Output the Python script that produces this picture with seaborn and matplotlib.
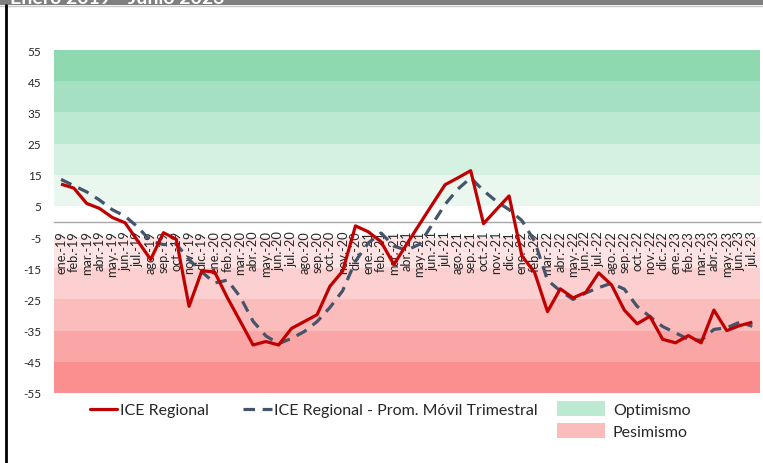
import matplotlib
matplotlib.use("Agg")
import matplotlib.pyplot as plt
import seaborn as sns
import pandas as pd
import numpy as np
from matplotlib.lines import Line2D
from matplotlib.patches import Patch, Rectangle

# ---------------- data ----------------
month_labels = [
    "ene.-19", "feb.-19", "mar.-19", "abr.-19", "may.-19", "jun.-19", "jul.-19", "ago.-19", "sep.-19", "oct.-19", "nov.-19", "dic.-19",
    "ene.-20", "feb.-20", "mar.-20", "abr.-20", "may.-20", "jun.-20", "jul.-20", "ago.-20", "sep.-20", "oct.-20", "nov.-20", "dic.-20",
    "ene.-21", "feb.-21", "mar.-21", "abr.-21", "may.-21", "jun.-21", "jul.-21", "ago.-21", "sep.-21", "oct.-21", "nov.-21", "dic.-21",
    "ene.-22", "feb.-22", "mar.-22", "abr.-22", "may.-22", "jun.-22", "jul.-22", "ago.-22", "sep.-22", "oct.-22", "nov.-22", "dic.-22",
    "ene.-23", "feb.-23", "mar.-23", "abr.-23", "may.-23", "jun.-23", "jul.-23",
]

ice_regional = [
    12.0, 10.7, 5.8, 4.2, 1.3, -0.4, -6.3, -12.2, -3.6, -5.7, -27.2, -15.8,
    -16.2, -24.5, -32.0, -39.6, -38.5, -39.6, -34.3, -32.1, -29.9, -20.8, -15.9, -1.4,
    -3.3, -6.5, -13.8, -7.3, -0.9, 5.5, 11.8, 14.0, 16.3, -0.7, 3.8, 8.2,
    -11.0, -16.4, -28.9, -21.6, -24.5, -22.7, -16.5, -20.3, -28.4, -32.8, -30.4, -37.8,
    -38.9, -36.6, -38.9, -28.4, -35.0, -33.4, -32.3,
]

ice_prom_movil = [
    13.5, 11.5, 9.5, 6.9, 3.8, 1.7, -1.8, -6.3, -7.4, -7.2, -12.2, -16.2,
    -19.7, -18.8, -24.2, -32.0, -36.7, -39.2, -37.5, -35.3, -32.1, -27.6, -22.2, -12.7,
    -6.9, -3.7, -7.9, -9.2, -7.3, -0.9, 5.5, 10.4, 14.0, 9.9, 6.5, 3.8,
    0.3, -6.4, -18.8, -22.3, -25.0, -22.9, -21.2, -19.8, -21.7, -27.2, -30.5, -33.7,
    -35.7, -37.8, -38.1, -34.6, -34.1, -32.3, -33.6,
]

y_ticks = [-55, -45, -35, -25, -15, -5, 5, 15, 25, 35, 45, 55]

band_edges_opt = [(5, 15), (15, 25), (25, 35), (35, 45), (45, 55)]
band_edges_pes = [(-15, -5), (-25, -15), (-35, -25), (-45, -35), (-55, -45)]
band_colors_opt = ["#e9f7ef", "#d4f1e2", "#bce9d2", "#a4e0c1", "#8fd9b0"]
band_colors_pes = ["#fde3e3", "#fcd0d0", "#fbbcbc", "#fba6a6", "#fb8f8f"]

series_names = ["ICE Regional", "ICE Regional - Prom. Móvil Trimestral"]
zone_names = ["Optimismo", "Pesimismo"]

df = pd.DataFrame({
    "idx": np.arange(len(month_labels)),
    "ice": ice_regional,
    "ma": ice_prom_movil,
})

# ---------------- style ----------------
sns.set_theme(style="white")
plt.rcParams["font.family"] = ["Lato", "DejaVu Sans"]

W, H = 763, 464
fig = plt.figure(figsize=(W / 100, H / 100), dpi=100)
fig.patch.set_facecolor("white")
ax = fig.add_axes([54 / W, 1 - 394 / H, (760 - 54) / W, 343 / H])
ax.set_facecolor("white")

for (lo, hi), c in zip(band_edges_opt, band_colors_opt):
    ax.axhspan(lo, hi, color=c, lw=0, zorder=0.1)
for (lo, hi), c in zip(band_edges_pes, band_colors_pes):
    ax.axhspan(lo, hi, color=c, lw=0, zorder=0.1)

red = "#c00000"
slate = "#44546a"

sns.lineplot(data=df, x="idx", y="ice", color=red, lw=2.3, ax=ax, zorder=3)
sns.lineplot(data=df, x="idx", y="ma", color=slate, lw=2.3, ax=ax, zorder=2.8)
ax.lines[1].set_dashes((3.6, 2.4))
for ln in ax.lines:
    ln.set_solid_capstyle("butt")

# spines first (set_position resets tick properties)
for s in ["top", "right", "left"]:
    ax.spines[s].set_visible(False)
ax.spines["bottom"].set_position(("data", 0))
ax.spines["bottom"].set_color("#a6a6a6")
ax.spines["bottom"].set_linewidth(1.0)

ax.set_axisbelow(True)
ax.set_xlim(-0.55, 54.6)
ax.set_ylim(-55, 55)
ax.set_yticks(y_ticks)
ax.set_yticklabels([str(v) for v in y_ticks], fontsize=8.5, color="#262626")
ax.set_xticks(df["idx"])
ax.set_xticklabels(month_labels, fontsize=9.2, color="#262626")
ax.tick_params(axis="x", length=0, pad=6, labelrotation=90)
ax.tick_params(axis="y", length=0, pad=9)
ax.set_xlabel("")
ax.set_ylabel("")
ax.grid(False)

# ---------------- legends ----------------
leg1 = fig.legend(handles=[Line2D([], [], color=red, lw=2.3)], labels=[series_names[0]],
                  loc="center left", bbox_to_anchor=(90 / W, 1 - 411 / H), frameon=False,
                  fontsize=11.5, handlelength=1.7, handletextpad=0.15, borderpad=0, borderaxespad=0)
dash_handle = Line2D([], [], color=slate, lw=2.3)
dash_handle.set_dashes((3.6, 2.4))
leg2 = fig.legend(handles=[dash_handle], labels=[series_names[1]],
                  loc="center left", bbox_to_anchor=(243 / W, 1 - 411 / H), frameon=False,
                  fontsize=11.5, handlelength=1.8, handletextpad=0.15, borderpad=0, borderaxespad=0)
leg3 = fig.legend(handles=[Patch(color="#bce9d2", lw=0), Patch(color="#fbbcbc", lw=0)], labels=zone_names,
                  loc="upper left", bbox_to_anchor=(557 / W, 1 - 402 / H), frameon=False,
                  fontsize=11.5, handlelength=3.0, handleheight=1.05, labelspacing=0.4,
                  handletextpad=0.5, borderpad=0, borderaxespad=0)
for lg in (leg1, leg2, leg3):
    for t in lg.get_texts():
        t.set_color("#262626")

# ---------------- frame / banner ----------------
fig.add_artist(Rectangle((0, 1 - 6 / H), 1, 6 / H, transform=fig.transFigure,
                         facecolor="#7f7f7f", edgecolor="none", zorder=5))
fig.add_artist(Line2D([0, 1], [1 - 6.5 / H, 1 - 6.5 / H], transform=fig.transFigure,
                      color="#c8c8c8", lw=1, zorder=5))
fig.text(10 / W, 1 - 4 / H, "Enero 2019 - Junio 2023", color="white", fontweight="bold",
         fontsize=14, va="baseline", ha="left", zorder=6)
fig.add_artist(Line2D([6 / W, 6 / W], [0, 1 - 6 / H], transform=fig.transFigure,
                      color="black", lw=2, zorder=6))

fig.savefig("out.png", dpi=100)
